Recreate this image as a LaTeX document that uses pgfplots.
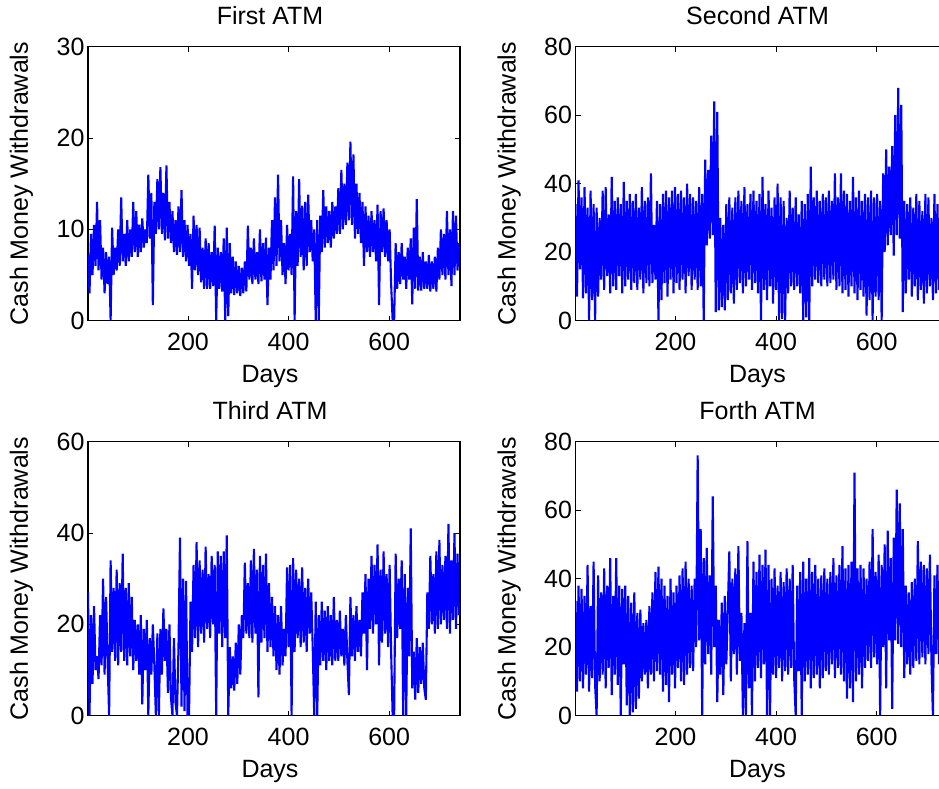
\documentclass[border=0pt]{standalone}
\usepackage{pgfplots}
\usepackage{pgfplotstable}
\pgfplotsset{compat=1.18}
\usepackage{fontspec}
\setmainfont{Liberation Sans}
\pgfplotstableread{
day a b c d
1 7.2 34 27 33.5
4 3 7 0 7
7 9.5 41 22 38
10 5 15 7 10
13 10.5 36 24 37
16 6 6.5 10 8
19 13 39 13 35
22 5.5 8 8 12
25 11 33 22 44
28 4.5 0 11 7
31 8 38 30 32
34 3 6 9 11
37 7.5 34 26 45
40 4 0 12 9
43 7 33 0 0
46 0 7 34 41
49 10.2 30 14 10
52 5 12 28 36
55 8 38 12 12
58 5.5 9 32 43
61 10 39 11 8
64 6 13 29 38
67 13.5 31 14 14
70 6.5 8 35.5 46
73 9.5 42 12 6
76 6 10 28 35
79 11 35 11 12
82 6.5 9 29 46
85 10 36 13 9
88 7 13 26 38
91 13 34 10 0
94 7.5 8 21 37
97 12 40.5 12 15
100 7 10 20 38
103 10.5 35 9 3
106 7.5 12 22 35
109 11.2 37 2.5 0
112 8 9 19 33
115 10 35 10 1
118 8.5 11 21 36
121 16 37 0 2
124 9 9 17 30
127 14 33 9 5
130 1.7 12 20 31
133 13 39 11 10
136 9.5 8 0 27
139 15.5 35 18 12
142 10 11 0 28
145 16.8 36 19 8
148 9.5 10 9 32
151 14 43 23.5 12
154 8.8 11 12 36
157 17 28 19 10
160 9 12 5 42
163 13 35 20 13
166 8.5 0 4 43.5
169 12 34 0 12
172 7.5 6 17 40
175 11 37 3 7
178 7.2 11 0 38
181 12.5 38 15 9
184 7.5 7 39 35
187 14.3 36 2 4
190 7 12 30 40
193 11 38 1 12
196 6.5 8 29.5 36
199 10.5 39 0 8
202 6 11 0 38
205 9.5 37 25 14
208 3.5 9 14 41
211 11.5 38 33 10
214 5.5 12 17 43
217 10.5 36 38 9
220 5 8 15 45
223 10.2 40 34 12
226 4.2 13 18 40
229 8 37 32 14
232 3.5 9 16 38
235 9 36 37 13
238 3.5 12 19 40
241 8.5 35 31 20
244 3.5 9 17 76
247 7.5 39 35 22
250 3.8 10 20 54.5
253 10.4 37 33 0
256 0 0 0 46
259 8 47 36 15
262 3.5 22 18 49
265 7.5 44 35 18
268 3.2 24 15 41
271 9 54 36 12
274 0 25 17 64
277 10.2 64 39.5 20
280 0.5 2.5 0 38
283 8.5 61 15 4
286 3 3 6 28
289 7 30 13 12
292 2.8 4 5.5 33
295 6.5 28 16 6
298 3 3 7 35
301 6 34 20 15
304 2.7 6 9 31
307 5.8 36 22 48
310 3 8 17 10
313 6.5 33 33.5 40
316 3.2 5 18 18
319 10.4 36 29 43
322 4.5 9 17 12
325 8 38 34 49.5
328 4 11 16 16
331 9 35 36.5 30
334 4.5 8 18 0
337 7.5 39 32 27
340 4 10 4 0
343 10 34 35 51
346 4.3 12 16 8
349 8.5 37 33 30
352 4.5 9 17 0
355 9.1 38 35.5 45
358 1.7 11 14 10
361 8 35 29 42
364 4.5 8 15 14
367 11 37 26 47
370 5.5 0 13 11
373 13.5 42 24 44
376 6 9 10 15
379 16 34 22 48.5
382 6.5 6 9 0
385 11 38 24 44
388 5 10 11 0
391 8.5 33 19 40
394 4 5 13 12
397 10.5 36 32.5 43
400 5.5 9 15 11
403 9.5 40 33 38
406 5 0 0 14
409 15.8 36 34.5 42
412 0 0.5 14 10
415 12 35 32 39
418 6 0 17 13
421 15.5 30 30 43
424 7 8 15 12
427 12.6 38 32.5 40
430 5.5 10 16 14
433 13 33 28 44
436 6 9 14 11
439 13.8 36 30 0
442 7.5 10 18 38
445 11 31 27 13
448 6.5 8 15 42
451 10 35 0 0
454 0 0 25 45
457 11 34 0 10
460 0 1 22 40
463 11.5 37 11 12
466 7.5 0 25 46
469 14.3 45 12 8
472 8 10 23 42
475 12.5 36 10 11
478 8.5 12 24 44
481 12 38 12 12
484 8 11 22 40
487 13 35 11 8
490 9 10 26 41
493 12.5 37 12 11
496 9.5 12 21 43
499 14.5 36 12 13
502 9.5 10 23 40
505 16.5 38 13 12
508 10 11 19 42
511 15 35 11 15
514 10.5 12 22 46
517 17.3 43 12 11
520 11 9 4.5 41
523 19.6 36 26 14
526 10.5 10 13 44
529 18.2 43 22 12
532 9 8 12 49.5
535 15 38 24 10
538 9.5 9 14 43
541 14 37 21 5
544 8.5 7 13 44
547 13 35 27 8
550 6 10 18 45
553 12.5 42 31 4
556 7.5 8 10 71
559 11.5 36 30 10
562 7 6 19 43
565 12 38 35 12
568 7.5 9 18 44
571 11 35 33 8
574 6.5 7 20 43
577 12.7 37 37.5 14
580 1.7 1.5 11 40
583 12 36 32 16
586 7.5 6 16 45
589 12.3 38 36 14
592 7 0 18 54.5
595 11 36 31 17
598 6.5 7 15 42
601 10 37 33 15
604 4 6 14 47
607 0 35 0 0
610 0 0 0 44
613 8.5 43 35.5 20
616 3.5 20 17 50
619 7.5 50 30 8
622 4 22 19 54
625 8.5 45 34 22
628 4.5 25 0 46
631 7 51 31 2
634 3.5 19 0 52
637 8 60 28 22
640 4.5 25 13 66
643 9 68 41 21
646 1.8 24 6 62
649 10.2 63 14 20
652 3.5 2.5 3.5 54.5
655 13.3 35 17 11
658 3.3 8 5 38
661 7 34 15 15
664 3.3 12 7 36
667 7.5 36 16 12
670 3.5 7 6 39
673 6.5 33 3.5 14
676 3.5 10 27 40
679 7.2 37 19 16
682 3.2 6 35 51
685 6.5 35 20 15
688 3.5 9 31 45
691 7 32 18 17
694 3.2 5 36 44
697 8 37 19 15
700 4.5 8 38.5 43
703 10 36 20 18
706 5 10 33 47
709 9.5 30 21 16
712 4.5 6 35 0
715 12 37 19 41
718 5 8 42 18
721 10 34 18 44
724 3.8 9 34 15
727 12 36 21 40
730 5 7 40 17
733 11.5 35 19 42
736 5.5 10 35.5 16
739 8.5 34 22 40
}\atmdata
\pgfplotsset{
  atm/.style={
    width=372pt, height=274pt, scale only axis,
    anchor=south west,
    xmin=1, xmax=741, ymin=0,
    xtick={200,400,600},
    tick align=inside, tick pos=both,
    major tick length=5pt,
    axis line style={line width=1.2pt},
    every tick/.style={black, line width=0.9pt},
    /pgf/number format/assume math mode=true,
    tick label style={font=\fontsize{25}{30}\selectfont, black},
    xticklabel style={anchor=base, yshift=-29.5pt},
    title style={font=\fontsize{25}{30}\selectfont, at={(axis description cs:0.5,1)}, anchor=base, yshift=16pt, xshift=-4pt},
    xlabel={Days},
    xlabel style={font=\fontsize{25}{30}\selectfont, at={(axis description cs:0.5,0)}, anchor=base, yshift=-62pt, xshift=-4pt},
    ylabel={Cash Money Withdrawals},
    ylabel style={font=\fontsize{25}{30}\selectfont, at={(axis description cs:-0.1613,0.5)}, anchor=base},
  },
  atmline/.style={color={rgb,255:red,0;green,0;blue,255}, line width=2.1pt, no markers, line join=miter, miter limit=2},
}
\begin{document}
\begin{tikzpicture}
\begin{axis}[atm, at={(88pt,468.3pt)}, title={First ATM}, ymax=30, ytick={0,10,20,30}]
\addplot[atmline] table[x=day, y=a] {\atmdata};
\end{axis}
\begin{axis}[atm, at={(575.5pt,468.3pt)}, title={Second ATM}, ymax=80, ytick={0,20,40,60,80}]
\addplot[atmline] table[x=day, y=b] {\atmdata};
\end{axis}
\begin{axis}[atm, at={(88pt,73.3pt)}, title={Third ATM}, ymax=60, ytick={0,20,40,60}]
\addplot[atmline] table[x=day, y=c] {\atmdata};
\end{axis}
\begin{axis}[atm, at={(575.5pt,73.3pt)}, title={Forth ATM}, ymax=80, ytick={0,20,40,60,80}]
\addplot[atmline] table[x=day, y=d] {\atmdata};
\end{axis}
\pgfresetboundingbox
\useasboundingbox (0pt,0pt) rectangle (939pt,789pt);
\end{tikzpicture}
\end{document}
